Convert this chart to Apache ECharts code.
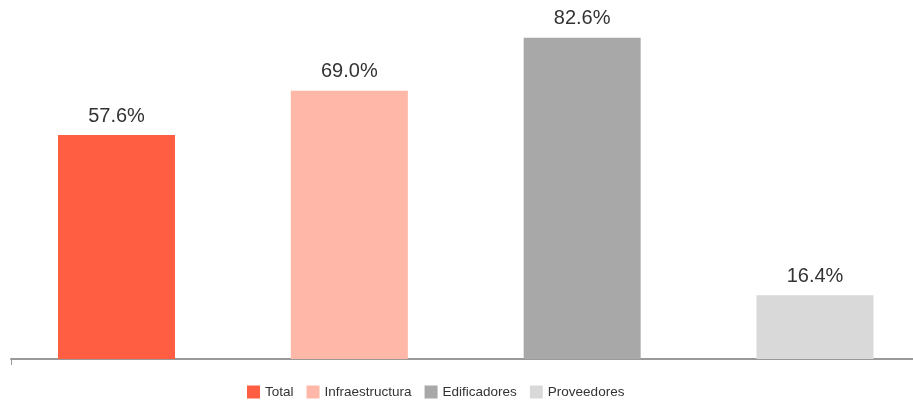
<!DOCTYPE html>
<html><head><meta charset="utf-8">
<script src="https://cdn.jsdelivr.net/npm/echarts@6/dist/echarts.min.js"></script>
<style>html,body{margin:0;padding:0;background:#fff;overflow:hidden}#c{width:930px;height:403px}</style>
</head><body><div id="c"></div>
<script>
const seriesNames = ['Total', 'Infraestructura', 'Edificadores', 'Proveedores'];
const values = [57.6, 69.0, 82.6, 16.4];
const colors = ['#ff5e42', '#ffb7a7', '#a8a8a8', '#d9d9d9'];
const categories = [''];

const chart = echarts.init(document.getElementById('c'));
chart.setOption({
  animation: false,
  textStyle: { fontFamily: 'Liberation Sans, Arial, sans-serif' },
  grid: { left: 11, right: 9.5, top: 9, bottom: 44 },
  legend: {
    top: 380, left: 242,
    itemWidth: 13, itemHeight: 13, itemGap: 13,
    icon: 'rect',
    textStyle: { fontSize: 13.5, color: '#333', fontFamily: 'Liberation Sans, Arial, sans-serif' },
    data: seriesNames
  },
  xAxis: {
    type: 'category', data: categories,
    axisLine: { lineStyle: { color: '#999', width: 2 } },
    axisTick: { show: true, length: 6, lineStyle: { color: '#999' } },
    axisLabel: { show: false }
  },
  yAxis: { type: 'value', min: 0, max: 90, show: false, splitLine: { show: false } },
  series: seriesNames.map((n, i) => ({
    name: n, type: 'bar', barWidth: 117, barGap: '99%',
    itemStyle: { color: colors[i] },
    label: { show: true, position: 'top', distance: 9, formatter: p => p.value.toFixed(1) + '%', fontSize: 20, color: '#333', fontFamily: 'Liberation Sans, Arial, sans-serif' },
    data: [values[i]]
  }))
});
</script></body></html>
